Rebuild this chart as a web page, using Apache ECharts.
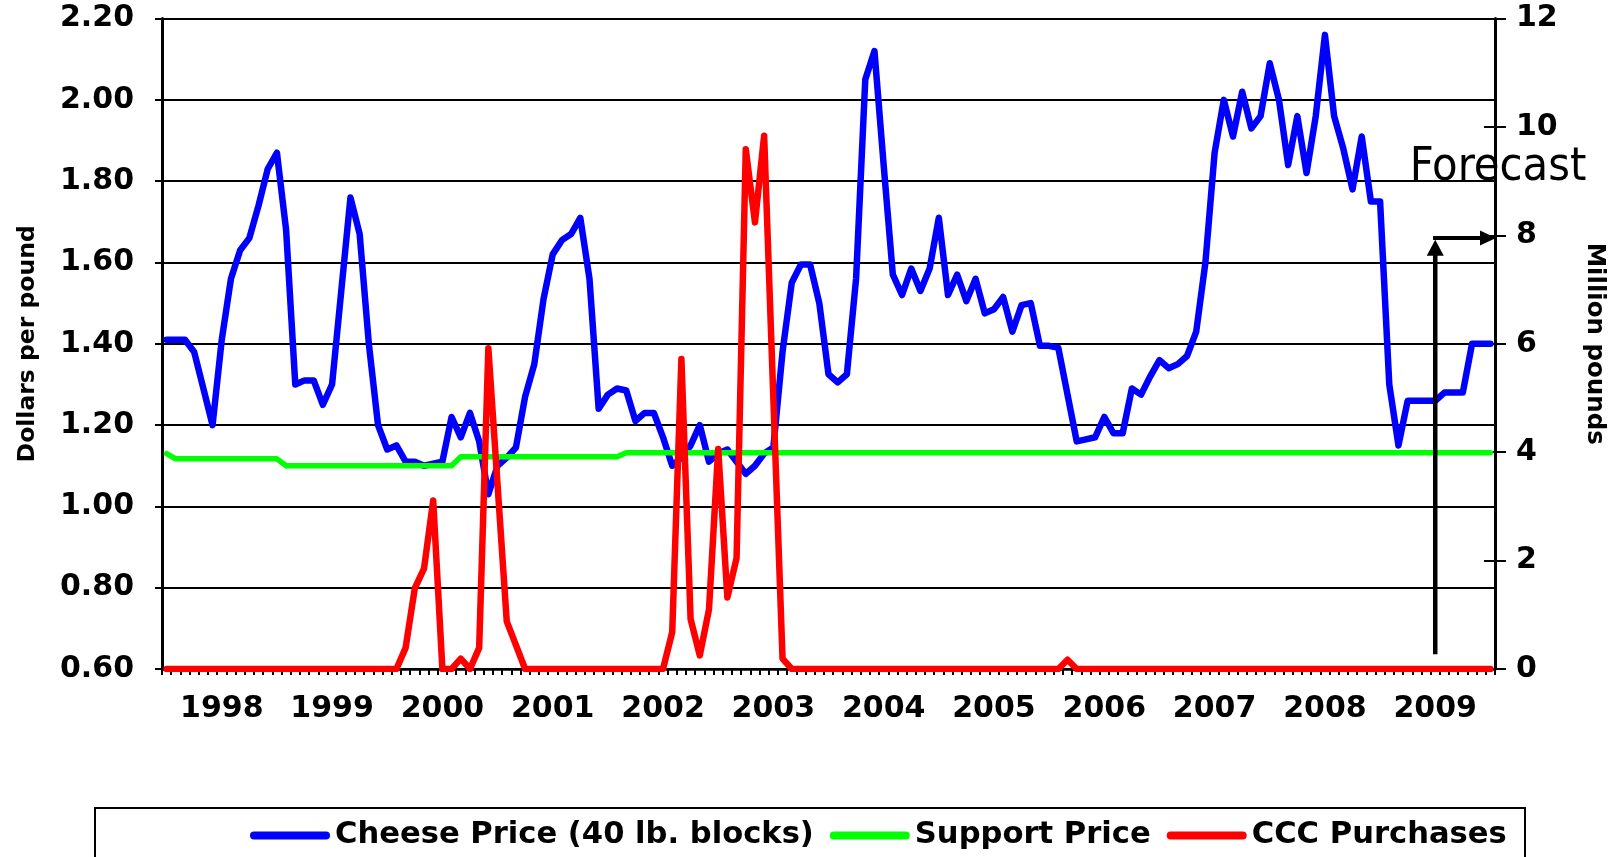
<!DOCTYPE html>
<html>
<head>
<meta charset="utf-8">
<script src="https://cdn.jsdelivr.net/npm/echarts@6/dist/echarts.min.js"></script>
<style>
html,body{margin:0;padding:0;background:#fff;}
#chart{width:1621px;height:857px;}
</style>
</head>
<body>
<div id="chart"></div>
<script>
// ---------- data ----------
const years = [1998,1999,2000,2001,2002,2003,2004,2005,2006,2007,2008,2009,2010];
// monthly categories Jan 1998 .. Jan 2010
const months = [];
years.forEach(function (y) {
  for (let m = 1; m <= 12; m++) {
    if (y === 2010 && m > 1) break;
    months.push(y + '-' + (m < 10 ? '0' + m : m));
  }
});

// Cheese price (40 lb. blocks), $/lb
const cheesePrice = [
  1.41, 1.41, 1.41, 1.38, 1.29, 1.20, 1.41, 1.56, 1.63, 1.66, 1.74, 1.83,   // 1998
  1.87, 1.68, 1.30, 1.31, 1.31, 1.25, 1.30, 1.53, 1.76, 1.67, 1.40, 1.20,   // 1999
  1.14, 1.15, 1.11, 1.11, 1.10, 1.105, 1.11, 1.22, 1.17, 1.23, 1.16, 1.03,  // 2000
  1.10, 1.12, 1.145, 1.27, 1.35, 1.51, 1.62, 1.655, 1.67, 1.71, 1.56, 1.24, // 2001
  1.275, 1.29, 1.285, 1.21, 1.23, 1.23, 1.17, 1.10, 1.12, 1.15, 1.20, 1.11, // 2002
  1.13, 1.14, 1.11, 1.08, 1.10, 1.13, 1.145, 1.38, 1.55, 1.595, 1.595, 1.50, // 2003
  1.325, 1.305, 1.325, 1.56, 2.05, 2.12, 1.84, 1.57, 1.52, 1.585, 1.53, 1.585, // 2004
  1.71, 1.52, 1.57, 1.505, 1.56, 1.475, 1.485, 1.515, 1.43, 1.495, 1.50, 1.395, // 2005
  1.395, 1.39, 1.275, 1.16, 1.165, 1.17, 1.22, 1.18, 1.18, 1.29, 1.275, 1.32,  // 2006
  1.36, 1.34, 1.35, 1.37, 1.43, 1.60, 1.87, 2.00, 1.91, 2.02, 1.93, 1.96,      // 2007
  2.09, 2.00, 1.84, 1.96, 1.82, 1.96, 2.16, 1.96, 1.88, 1.78, 1.91, 1.75,      // 2008
  1.75, 1.30, 1.15, 1.26, 1.26, 1.26, 1.26, 1.28, 1.28, 1.28, 1.40, 1.40,      // 2009
  1.40                                                                          // 2010
];

// Support price, $/lb
const supportPrice = [
  1.13, 1.117, 1.117, 1.117, 1.117, 1.117, 1.117, 1.117, 1.117, 1.117, 1.117, 1.117,
  1.117, 1.10, 1.10, 1.10, 1.10, 1.10, 1.10, 1.10, 1.10, 1.10, 1.10, 1.10,
  1.10, 1.10, 1.10, 1.10, 1.10, 1.10, 1.10, 1.10, 1.122, 1.122, 1.122, 1.122,
  1.122, 1.122, 1.122, 1.122, 1.122, 1.122, 1.122, 1.122, 1.122, 1.122, 1.122, 1.122,
  1.122, 1.122, 1.132, 1.132, 1.132, 1.132, 1.132, 1.132, 1.132, 1.132, 1.132, 1.132,
  1.132, 1.132, 1.132, 1.132, 1.132, 1.132, 1.132, 1.132, 1.132, 1.132, 1.132, 1.132,
  1.132, 1.132, 1.132, 1.132, 1.132, 1.132, 1.132, 1.132, 1.132, 1.132, 1.132, 1.132,
  1.132, 1.132, 1.132, 1.132, 1.132, 1.132, 1.132, 1.132, 1.132, 1.132, 1.132, 1.132,
  1.132, 1.132, 1.132, 1.132, 1.132, 1.132, 1.132, 1.132, 1.132, 1.132, 1.132, 1.132,
  1.132, 1.132, 1.132, 1.132, 1.132, 1.132, 1.132, 1.132, 1.132, 1.132, 1.132, 1.132,
  1.132, 1.132, 1.132, 1.132, 1.132, 1.132, 1.132, 1.132, 1.132, 1.132, 1.132, 1.132,
  1.132, 1.132, 1.132, 1.132, 1.132, 1.132, 1.132, 1.132, 1.132, 1.132, 1.132, 1.132,
  1.132
];

// CCC purchases, million pounds
const cccPurchases = [
  0, 0, 0, 0, 0, 0, 0, 0, 0, 0, 0, 0,
  0, 0, 0, 0, 0, 0, 0, 0, 0, 0, 0, 0,
  0, 0, 0.39, 1.49, 1.85, 3.11, 0, 0, 0.19, 0, 0.39, 5.92,
  3.4, 0.88, 0.44, 0, 0, 0, 0, 0, 0, 0, 0, 0,
  0, 0, 0, 0, 0, 0, 0, 0.68, 5.72, 0.92, 0.25, 1.1,
  4.06, 1.32, 2.05, 9.59, 8.24, 9.84, 5.0, 0.19, 0, 0, 0, 0,
  0, 0, 0, 0, 0, 0, 0, 0, 0, 0, 0, 0,
  0, 0, 0, 0, 0, 0, 0, 0, 0, 0, 0, 0,
  0, 0, 0.17, 0, 0, 0, 0, 0, 0, 0, 0, 0,
  0, 0, 0, 0, 0, 0, 0, 0, 0, 0, 0, 0,
  0, 0, 0, 0, 0, 0, 0, 0, 0, 0, 0, 0,
  0, 0, 0, 0, 0, 0, 0, 0, 0, 0, 0, 0,
  0
];

const seriesNames = ['Cheese Price (40 lb. blocks)', 'Support Price', 'CCC Purchases'];
const seriesColors = ['#0000ff', '#00ff00', '#ff0000'];
const leftAxis = {min: 0.6, max: 2.2, step: 0.2, name: 'Dollars per pound'};
const rightAxis = {min: 0, max: 12, step: 2, name: 'Million pounds'};

// annotation anchors (data units)
const forecastText = 'Forecast';
const forecastAt = {category: 135, price: 1.832};
const arrowAt = {category: 138, from: 0.27, to: 7.92, level: 7.95};

// ---------- chart ----------
const FONT = 'DejaVu Sans';
const labelStyle = {fontSize: 30, fontWeight: 'bold', fontFamily: FONT, color: '#000'};
const legendIcon = 'path://M4,0 L76,0 A4,4 0 0 1 76,8 L4,8 A4,4 0 0 1 4,0 Z';

const chart = echarts.init(document.getElementById('chart'), null, {renderer: 'canvas', width: 1621, height: 857});

const option = {
  animation: false,
  backgroundColor: '#ffffff',
  grid: {left: 162, right: 126, top: 18.6, bottom: 188, containLabel: false, outerBoundsMode: 'none'},
  legend: {
    show: true,
    data: seriesNames.map(function (n, k) {
      return {name: n, icon: legendIcon, itemStyle: {color: seriesColors[k], borderWidth: 0}};
    }),
    left: 250,
    top: 820,
    padding: 0,
    itemWidth: 80,
    itemHeight: 8,
    itemGap: 16,
    textStyle: {fontSize: 30.6, fontWeight: 'bold', fontFamily: FONT, color: '#000'}
  },
  xAxis: {
    type: 'category',
    data: months,
    boundaryGap: true,
    axisLine: {show: true, lineStyle: {color: '#000', width: 2.5}},
    axisTick: {show: true, interval: 0, alignWithLabel: false, length: 6, lineStyle: {color: '#000', width: 2}},
    axisLabel: Object.assign({
      interval: function (index) { return index % 12 === 6; },
      formatter: function (v, index) { return index % 12 === 6 ? v.slice(0, 4) : ''; },
      margin: 25
    }, labelStyle),
    splitLine: {show: false}
  },
  yAxis: [
    {
      type: 'value', position: 'left',
      min: leftAxis.min, max: leftAxis.max, interval: leftAxis.step,
      name: leftAxis.name, nameLocation: 'middle', nameRotate: 90, nameGap: 122,
      nameTextStyle: {fontSize: 23.5, fontWeight: 'bold', fontFamily: FONT, color: '#000'},
      axisLine: {show: true, lineStyle: {color: '#000', width: 3}},
      axisTick: {show: true, length: 7, lineStyle: {color: '#000', width: 2}},
      axisLabel: Object.assign({formatter: function (v) { return v.toFixed(2); }, margin: 28}, labelStyle),
      splitLine: {show: true, lineStyle: {color: '#000', width: 2}}
    },
    {
      type: 'value', position: 'right',
      min: rightAxis.min, max: rightAxis.max, interval: rightAxis.step,
      name: rightAxis.name, nameLocation: 'middle', nameRotate: -90, nameGap: 87,
      nameTextStyle: {fontSize: 24.5, fontWeight: 'bold', fontFamily: FONT, color: '#000'},
      axisLine: {show: true, lineStyle: {color: '#000', width: 3}},
      axisTick: {show: true, length: 11, lineStyle: {color: '#000', width: 2}},
      axisLabel: Object.assign({margin: 21}, labelStyle),
      splitLine: {show: false}
    },
    {
      type: 'value', position: 'right',
      min: rightAxis.min, max: rightAxis.max, interval: rightAxis.step,
      axisLine: {show: false},
      axisTick: {show: true, inside: true, length: 11, lineStyle: {color: '#000', width: 2}},
      axisLabel: {show: false},
      splitLine: {show: false}
    }
  ],
  series: [
    {
      name: seriesNames[0], type: 'line', yAxisIndex: 0, data: cheesePrice,
      symbol: 'none', showSymbol: false, smooth: false,
      lineStyle: {color: seriesColors[0], width: 6.5, cap: 'round', join: 'round'},
      itemStyle: {color: seriesColors[0]}
    },
    {
      name: seriesNames[1], type: 'line', yAxisIndex: 0, data: supportPrice,
      symbol: 'none', showSymbol: false,
      lineStyle: {color: seriesColors[1], width: 5.5, cap: 'round', join: 'round'},
      itemStyle: {color: seriesColors[1]}
    },
    {
      name: seriesNames[2], type: 'line', yAxisIndex: 1, data: cccPurchases,
      symbol: 'none', showSymbol: false,
      lineStyle: {color: seriesColors[2], width: 6.5, cap: 'round', join: 'round'},
      itemStyle: {color: seriesColors[2]}
    }
  ]
};

chart.setOption(option);

// ---------- annotations positioned through the axes ----------
function px(seriesIndex, cat, val) {
  return chart.convertToPixel({seriesIndex: seriesIndex}, [cat, val]);
}
const last = months.length - 1;
const band = (px(2, last, 0)[0] - px(2, 0, 0)[0]) / last;
const ax = px(2, arrowAt.category, 0)[0];
const yBottom = px(2, arrowAt.category, arrowAt.from)[1];
const yTip = px(2, arrowAt.category, arrowAt.to)[1];
const yLevel = px(2, arrowAt.category, arrowAt.level)[1];
const xEnd = px(2, last, 0)[0] + band / 2 + 1;
const fPos = px(0, forecastAt.category, forecastAt.price);

chart.setOption({
  graphic: [
    {type: 'rect', silent: true, z: 10,
     shape: {x: 95, y: 808, width: 1430, height: 90},
     style: {fill: 'none', stroke: '#000', lineWidth: 2}},
    {type: 'text', silent: true, z: 20,
     x: fPos[0] + 2, y: fPos[1],
     style: {text: forecastText, font: '46.5px "DejaVu Sans Condensed"', fill: '#000',
             textAlign: 'left', textVerticalAlign: 'middle', align: 'left', verticalAlign: 'middle'}},
    {type: 'line', silent: true, z: 20,
     shape: {x1: ax, y1: yBottom, x2: ax, y2: yTip + 14},
     style: {stroke: '#000', lineWidth: 4.5}},
    {type: 'polygon', silent: true, z: 20,
     shape: {points: [[ax - 8.5, yTip + 16], [ax + 8.5, yTip + 16], [ax, yTip]]},
     style: {fill: '#000'}},
    {type: 'line', silent: true, z: 20,
     shape: {x1: ax - 2.2, y1: yLevel, x2: xEnd - 14, y2: yLevel},
     style: {stroke: '#000', lineWidth: 4}},
    {type: 'polygon', silent: true, z: 20,
     shape: {points: [[xEnd - 16, yLevel - 7.5], [xEnd - 16, yLevel + 7.5], [xEnd, yLevel]]},
     style: {fill: '#000'}}
  ]
});
</script>
</body>
</html>
